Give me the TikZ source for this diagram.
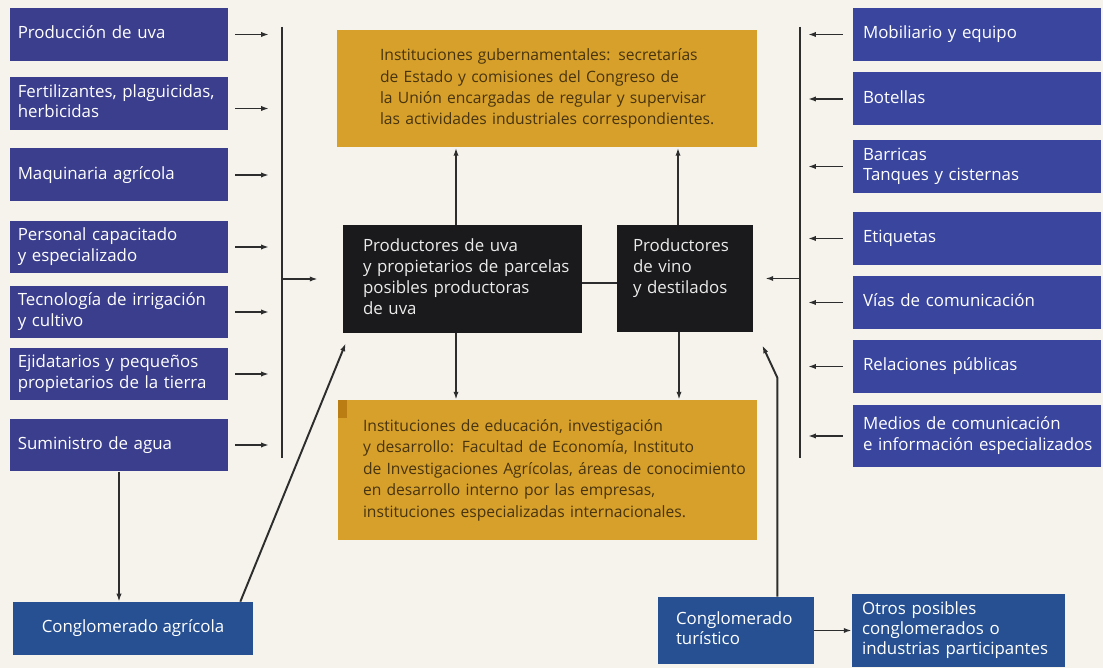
\documentclass[tikz,border=0pt]{standalone}
\usepackage{fontspec}
\setmainfont{Open Sans}
\usetikzlibrary{arrows.meta}
\definecolor{paper}{RGB}{245,243,236}
\definecolor{inL}{RGB}{58,62,140}
\definecolor{inR}{RGB}{58,70,158}
\definecolor{clus}{RGB}{38,80,145}
\definecolor{gold}{RGB}{214,160,42}
\definecolor{goldtab}{RGB}{185,125,20}
\definecolor{goldtx}{RGB}{72,52,16}
\definecolor{core}{RGB}{26,26,28}
\definecolor{wire}{RGB}{45,45,45}
\newcommand{\boxlines}[1]{\begin{tabular}{@{}l@{}}#1\end{tabular}}

\begin{document}
\begin{tikzpicture}[x=0.02cm,y=-0.02cm,
  inl/.style={fill=inL,text=white,align=left,text width=4.05cm,
              minimum width=4.36cm,minimum height=1.06cm,
              font=\fontsize{9.6}{11.4}\selectfont},
  inr/.style={fill=inR,text=white,align=left,text width=4.56cm,
              minimum width=4.96cm,minimum height=1.06cm,
              font=\fontsize{9.6}{11.4}\selectfont},
  inst/.style={fill=gold,text=goldtx,align=left,
               font=\fontsize{8.9}{12.2}\selectfont},
  prod/.style={fill=core,text=white!92!black,align=left,
               font=\fontsize{9.6}{12}\selectfont},
  clu/.style={fill=clus,text=white,minimum height=1.34cm,
              font=\fontsize{9.6}{11.6}\selectfont},
  arr/.style={draw=wire,line width=1.1pt,-{Latex[length=4.5pt,width=3pt]}},
  bar/.style={draw=wire,line width=1.1pt}]
  \fill[paper] (0,0) rectangle (1103,668);

  \node[inl] (pu) at (119,34.5)  {\boxlines{Producción de uva}};
  \node[inl] (fe) at (119,103.5) {\boxlines{Fertilizantes, plaguicidas,\\herbicidas}};
  \node[inl] (ma) at (119,175)   {\boxlines{Maquinaria agrícola}};
  \node[inl] (pc) at (119,247)   {\boxlines{Personal capacitado\\y especializado}};
  \node[inl] (ti) at (119,312)   {\boxlines{Tecnología de irrigación\\y cultivo}};
  \node[inl] (ej) at (119,374)   {\boxlines{Ejidatarios y pequeños\\propietarios de la tierra}};
  \node[inl] (su) at (119,445)   {\boxlines{Suministro de agua}};

  \node[inr] (mo) at (977,34.5)  {\boxlines{Mobiliario y equipo}};
  \node[inr] (bo) at (977,99)    {\boxlines{Botellas}};
  \node[inr] (ba) at (977,166.5) {\boxlines{Barricas\\Tanques y cisternas}};
  \node[inr] (et) at (977,238.5) {\boxlines{Etiquetas}};
  \node[inr] (vi) at (977,302.5) {\boxlines{Vías de comunicación}};
  \node[inr] (rp) at (977,366.5) {\boxlines{Relaciones públicas}};
  \node[inr,minimum height=1.24cm] (me) at (977,436)
    {\boxlines{Medios de comunicación\\e información especializados}};

  \node[inst,minimum width=8.4cm,minimum height=2.36cm,text width=6.68cm] (gt) at (547,88.5)
    {\boxlines{Instituciones gubernamentales: secretarías\\de Estado y comisiones del Congreso de\\la Unión encargadas de regular y supervisar\\las actividades industriales correspondientes.}};
  \node[inst,minimum width=8.38cm,minimum height=2.8cm,text width=7.38cm] (gb) at (547.5,470)
    {\boxlines{Instituciones de educación, investigación\\y desarrollo: Facultad de Economía, Instituto\\de Investigaciones Agrícolas, áreas de conocimiento\\en desarrollo interno por las empresas,\\instituciones especializadas internacionales.}};
  \fill[goldtab] (gb.north west) rectangle ++(9,18);

  \node[prod,minimum width=4.78cm,minimum height=2.16cm,text width=3.98cm] (pl) at (462.5,279)
    {\boxlines{Productores de uva\\y propietarios de parcelas\\posibles productoras\\de uva}};
  \node[prod,minimum width=2.72cm,minimum height=2.14cm,text width=2.08cm] (pv) at (685,278.5)
    {\boxlines{Productores\\de vino\\y destilados\\~}};

  \node[clu,minimum width=4.8cm,minimum height=1.06cm] (ca) at (133,628.5) {Conglomerado agrícola};
  \node[clu,minimum width=3.12cm,text width=2.4cm,align=left] (ct) at (736,630.5)
    {\boxlines{Conglomerado\\turístico}};
  \node[clu,minimum width=4.26cm,text width=3.86cm,align=left] (os) at (958.5,630.5)
    {\boxlines{Otros posibles\\conglomerados o\\industrias participantes}};

  \coordinate (lb1) at (282,27);
  \coordinate (lb2) at (282,458);
  \coordinate (rb1) at (800,27);
  \coordinate (rb2) at (800,458);
  \draw[bar] (lb1) -- (lb2);
  \draw[bar] (rb1) -- (rb2);

  \draw[arr,shorten <=0.14cm,shorten >=0.26cm] (pu.east) -- (pu.east -| lb1);
  \draw[arr,shorten <=0.14cm,shorten >=0.26cm] ([yshift=-0.1cm]fe.east) -- ([yshift=-0.1cm]fe.east -| lb1);
  \draw[arr,shorten <=0.14cm,shorten >=0.26cm] (ma.east) -- (ma.east -| lb1);
  \draw[arr,shorten <=0.14cm,shorten >=0.26cm] (pc.east) -- (pc.east -| lb1);
  \draw[arr,shorten <=0.14cm,shorten >=0.26cm] (ti.east) -- (ti.east -| lb1);
  \draw[arr,shorten <=0.14cm,shorten >=0.26cm] (ej.east) -- (ej.east -| lb1);
  \draw[arr,shorten <=0.14cm,shorten >=0.26cm] (su.east) -- (su.east -| lb1);
  \draw[arr,shorten >=0.5cm] (lb1 |- pl.west) -- (pl.west);

  \draw[arr,shorten <=0.2cm,shorten >=0.16cm] (mo.west) -- (mo.west -| rb1);
  \draw[arr,shorten <=0.2cm,shorten >=0.16cm] (bo.west) -- (bo.west -| rb1);
  \draw[arr,shorten <=0.2cm,shorten >=0.16cm] (ba.west) -- (ba.west -| rb1);
  \draw[arr,shorten <=0.2cm,shorten >=0.16cm] (et.west) -- (et.west -| rb1);
  \draw[arr,shorten <=0.2cm,shorten >=0.16cm] (vi.west) -- (vi.west -| rb1);
  \draw[arr,shorten <=0.2cm,shorten >=0.16cm] (rp.west) -- (rp.west -| rb1);
  \draw[arr,shorten <=0.2cm,shorten >=0.16cm] (me.west) -- (me.west -| rb1);
  \draw[arr,shorten >=0.24cm] (rb1 |- pv.east) -- (pv.east);

  \draw[arr] ([xshift=-0.13cm]pl.north) -- ([xshift=-0.13cm]pl.north |- gt.south);
  \draw[arr] ([xshift=-0.14cm]pv.north) -- ([xshift=-0.14cm]pv.north |- gt.south);
  \draw[arr] ([xshift=-0.13cm]pl.south) -- ([xshift=-0.13cm]pl.south |- gb.north);
  \draw[arr] ([xshift=-0.12cm]pv.south) -- ([xshift=-0.12cm]pv.south |- gb.north);
  \draw[bar] ([yshift=-0.08cm]pl.east) -- ([yshift=-0.08cm]pl.east -| pv.west);

  \draw[arr] (su.south) -- (su.south |- ca.north);
  \draw[arr] ([xshift=-0.26cm]ca.north east) -- ([xshift=0.06cm,yshift=-0.2cm]pl.south west);
  \draw[arr] ([xshift=-0.74cm]ct.north east) -- ++(0,-219) -- ([xshift=0.18cm,yshift=-0.26cm]pv.south east);
  \draw[arr] (ct.east) -- (os.west);
\end{tikzpicture}
\end{document}
